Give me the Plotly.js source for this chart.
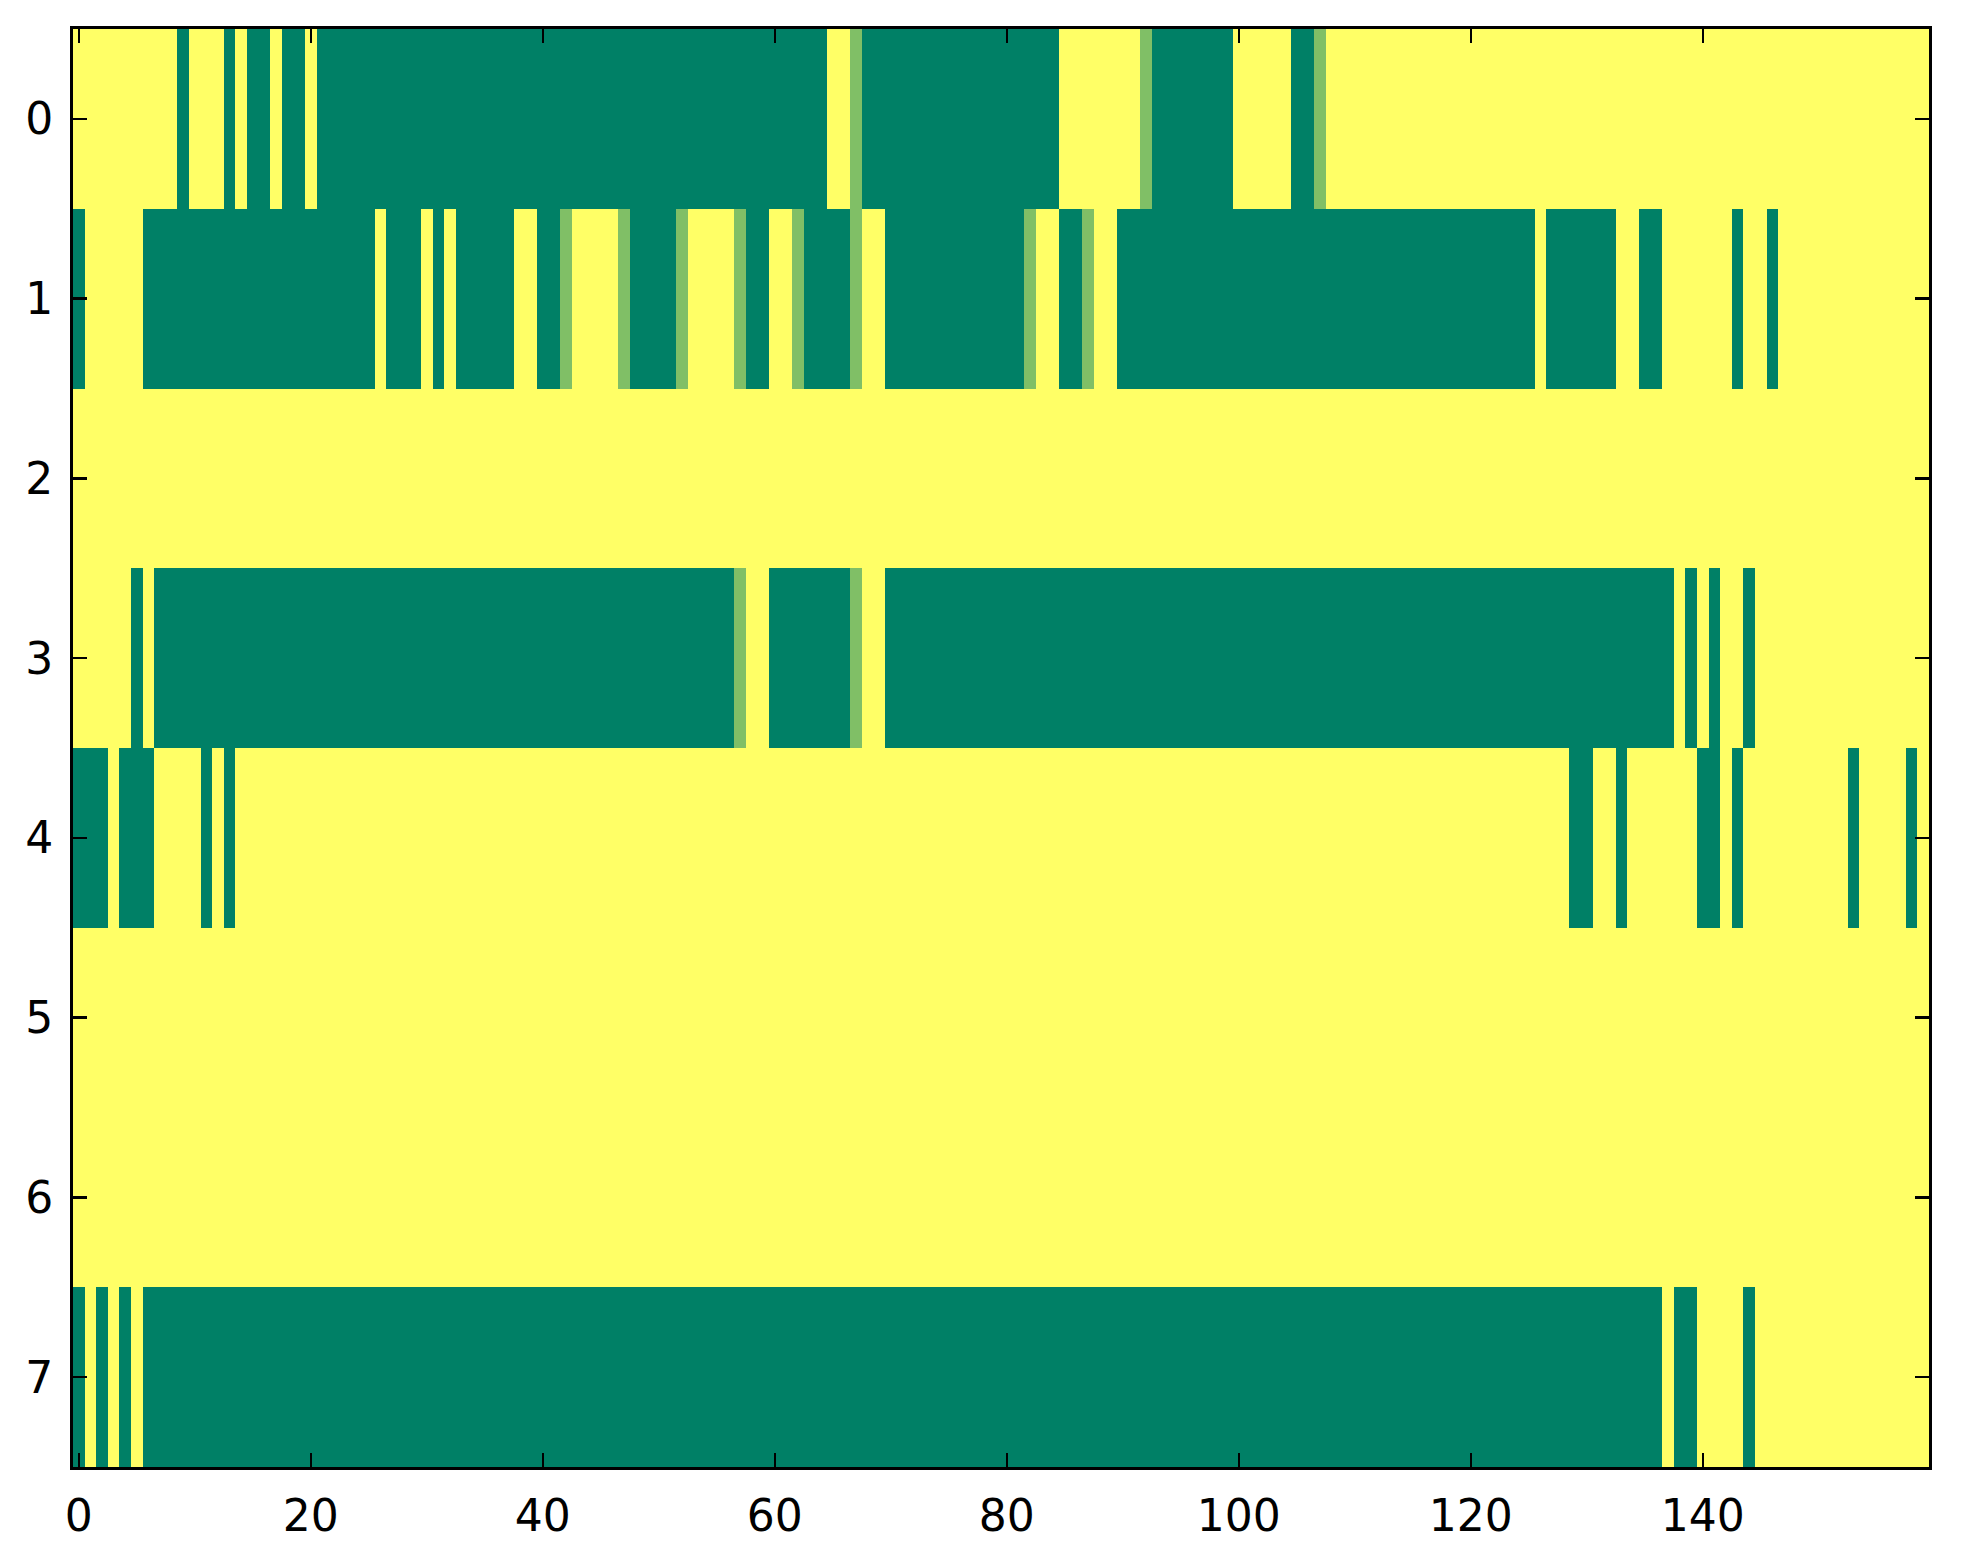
<!DOCTYPE html>
<html>
<head>
<meta charset="utf-8">
<script src="https://cdn.plot.ly/plotly-3.0.1.min.js"></script>
<style>
html,body{margin:0;padding:0;background:#fff;}
#chart{width:1963px;height:1564px;}
</style>
</head>
<body>
<div id="chart"></div>
<script>
// Cell values: 0 = dark green, 0.5 = light green, 1 = yellow
// Each row listed as runs: [value, firstColumn, lastColumn]
var nCols = 160;
var rowLabels = [0, 1, 2, 3, 4, 5, 6, 7];
var xTickVals = [0, 20, 40, 60, 80, 100, 120, 140];

var row0Runs = [[1,0,8],[0,9,9],[1,10,12],[0,13,13],[1,14,14],[0,15,16],[1,17,17],[0,18,19],[1,20,20],[0,21,64],[1,65,66],[0.5,67,67],[0,68,84],[1,85,91],[0.5,92,92],[0,93,99],[1,100,104],[0,105,106],[0.5,107,107],[1,108,159]];
var row1Runs = [[0,0,0],[1,1,5],[0,6,25],[1,26,26],[0,27,29],[1,30,30],[0,31,31],[1,32,32],[0,33,37],[1,38,39],[0,40,41],[0.5,42,42],[1,43,46],[0.5,47,47],[0,48,51],[0.5,52,52],[1,53,56],[0.5,57,57],[0,58,59],[1,60,61],[0.5,62,62],[0,63,66],[0.5,67,67],[1,68,69],[0,70,81],[0.5,82,82],[1,83,84],[0,85,86],[0.5,87,87],[1,88,89],[0,90,125],[1,126,126],[0,127,132],[1,133,134],[0,135,136],[1,137,142],[0,143,143],[1,144,145],[0,146,146],[1,147,159]];
var row2Runs = [[1,0,159]];
var row3Runs = [[1,0,4],[0,5,5],[1,6,6],[0,7,56],[0.5,57,57],[1,58,59],[0,60,66],[0.5,67,67],[1,68,69],[0,70,137],[1,138,138],[0,139,139],[1,140,140],[0,141,141],[1,142,143],[0,144,144],[1,145,159]];
var row4Runs = [[0,0,2],[1,3,3],[0,4,6],[1,7,10],[0,11,11],[1,12,12],[0,13,13],[1,14,128],[0,129,130],[1,131,132],[0,133,133],[1,134,139],[0,140,141],[1,142,142],[0,143,143],[1,144,152],[0,153,153],[1,154,157],[0,158,158],[1,159,159]];
var row5Runs = [[1,0,159]];
var row6Runs = [[1,0,159]];
var row7Runs = [[0,0,0],[1,1,1],[0,2,2],[1,3,3],[0,4,4],[1,5,5],[0,6,136],[1,137,137],[0,138,139],[1,140,143],[0,144,144],[1,145,159]];

var allRuns = [row0Runs,row1Runs,row2Runs,row3Runs,row4Runs,row5Runs,row6Runs,row7Runs];

function expandRuns(runs){
  var out = new Array(nCols);
  runs.forEach(function(r){
    for (var c = r[1]; c <= r[2]; c++) out[c] = r[0];
  });
  return out;
}
var z = allRuns.map(expandRuns);
var xCols = [];
for (var i = 0; i < nCols; i++) xCols.push(i);

var trace = {
  type: 'heatmap',
  z: z,
  x: xCols,
  y: rowLabels,
  zmin: 0, zmax: 1,
  colorscale: [[0,'#008066'],[0.5,'#80bf66'],[1,'#ffff66']],
  showscale: false,
  hoverinfo: 'skip'
};

var axisFont = {family: 'DejaVu Sans, sans-serif', size: 44, color: '#000'};
var layout = {
  width: 1963, height: 1564,
  margin: {l: 73, r: 34, t: 29, b: 97, pad: 0},
  paper_bgcolor: '#fff',
  plot_bgcolor: '#fff',
  showlegend: false,
  xaxis: {
    range: [-0.5, 159.5],
    tickvals: xTickVals,
    ticktext: xTickVals.map(String),
    ticks: 'inside', ticklen: 14, tickwidth: 2.5, tickcolor: '#000',
    showline: true, linecolor: '#000', linewidth: 3, mirror: 'ticks',
    showgrid: false, zeroline: false,
    tickfont: axisFont,
    ticklabelstandoff: 8
  },
  yaxis: {
    range: [7.5, -0.5],
    tickvals: rowLabels,
    ticktext: rowLabels.map(String),
    ticks: 'inside', ticklen: 14, tickwidth: 2.5, tickcolor: '#000',
    showline: true, linecolor: '#000', linewidth: 3, mirror: 'ticks',
    showgrid: false, zeroline: false,
    tickfont: axisFont,
    ticklabelstandoff: 8
  }
};

Plotly.newPlot('chart', [trace], layout, {displayModeBar: false, staticPlot: true});
</script>
</body>
</html>
